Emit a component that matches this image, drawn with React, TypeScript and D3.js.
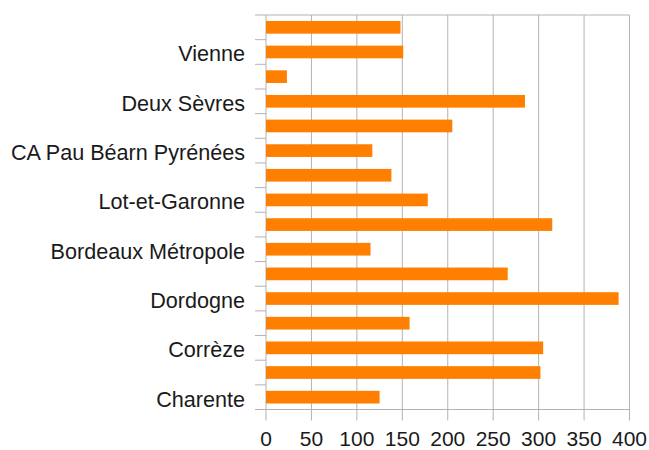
import React from "react";
import * as d3 from "d3";

// bottom to top, as in the source sheet
const categories = [
  "Charente",
  "Charente-Maritime",
  "Corrèze",
  "Creuse",
  "Dordogne",
  "Gironde",
  "Bordeaux Métropole",
  "Landes",
  "Lot-et-Garonne",
  "Pyrénées-Atlantiques",
  "CA Pau Béarn Pyrénées",
  "CA Pays Basque",
  "Deux Sèvres",
  "CA Niort",
  "Vienne",
  "Haute-Vienne",
];
const values = [125, 302, 305, 158, 388, 266, 115, 315, 178, 138, 117, 205, 285, 23, 151, 148];
const xTicks = [0, 50, 100, 150, 200, 250, 300, 350, 400];

const W = 649;
const H = 450;
const left = 266;
const right = 629.5;
const top = 15;
const bottom = 409.5;
const grid = "#b3b3b3";
const font = "'Liberation Sans', Arial, sans-serif";

export default function App() {
  const x = d3.scaleLinear().domain([0, 400]).range([left, right]);
  // reversed so the first category sits at the bottom
  const y = d3
    .scaleBand()
    .domain(categories.slice().reverse())
    .range([top, bottom])
    .paddingInner(0.485)
    .paddingOuter(0.2425);
  const step = y.step();
  const bounds = d3.range(categories.length + 1).map((i) => top + i * step);

  return (
    <svg width={W} height={H} style={{ position: "absolute", left: 0, top: 0 }}>
      <rect width={W} height={H} fill="white" />
      {/* vertical grid */}
      {xTicks.map((t) => (
        <line key={"g" + t} x1={x(t)} x2={x(t)} y1={top} y2={bottom + 11} stroke={grid} strokeWidth={1} />
      ))}
      {/* category ticks */}
      {bounds.map((b, i) => (
        <line key={"t" + i} x1={left - 11} x2={x(400)} y1={b} y2={b} stroke={grid} strokeWidth={1}
          strokeDasharray={i === 0 || i === bounds.length - 1 ? undefined : "11 1000"} />
      ))}
      {categories.map((c, i) => (
        <rect key={c} x={x(0)} y={y(c)} width={x(values[i]) - x(0)} height={y.bandwidth()} fill="#ff8000" />
      ))}
      {categories.map((c, i) =>
        i % 2 === 0 ? (
          <text key={"l" + c} x={245} y={(y(c) as number) + y.bandwidth() / 2 + 9.5}
            textAnchor="end" fontFamily={font} fontSize={21.6} fill="#1a1a1a">
            {c}
          </text>
        ) : null
      )}
      {xTicks.map((t) => (
        <text key={"x" + t} x={x(t)} y={445.5} textAnchor="middle" fontFamily={font} fontSize={21} fill="#1a1a1a">
          {t}
        </text>
      ))}
    </svg>
  );
}
